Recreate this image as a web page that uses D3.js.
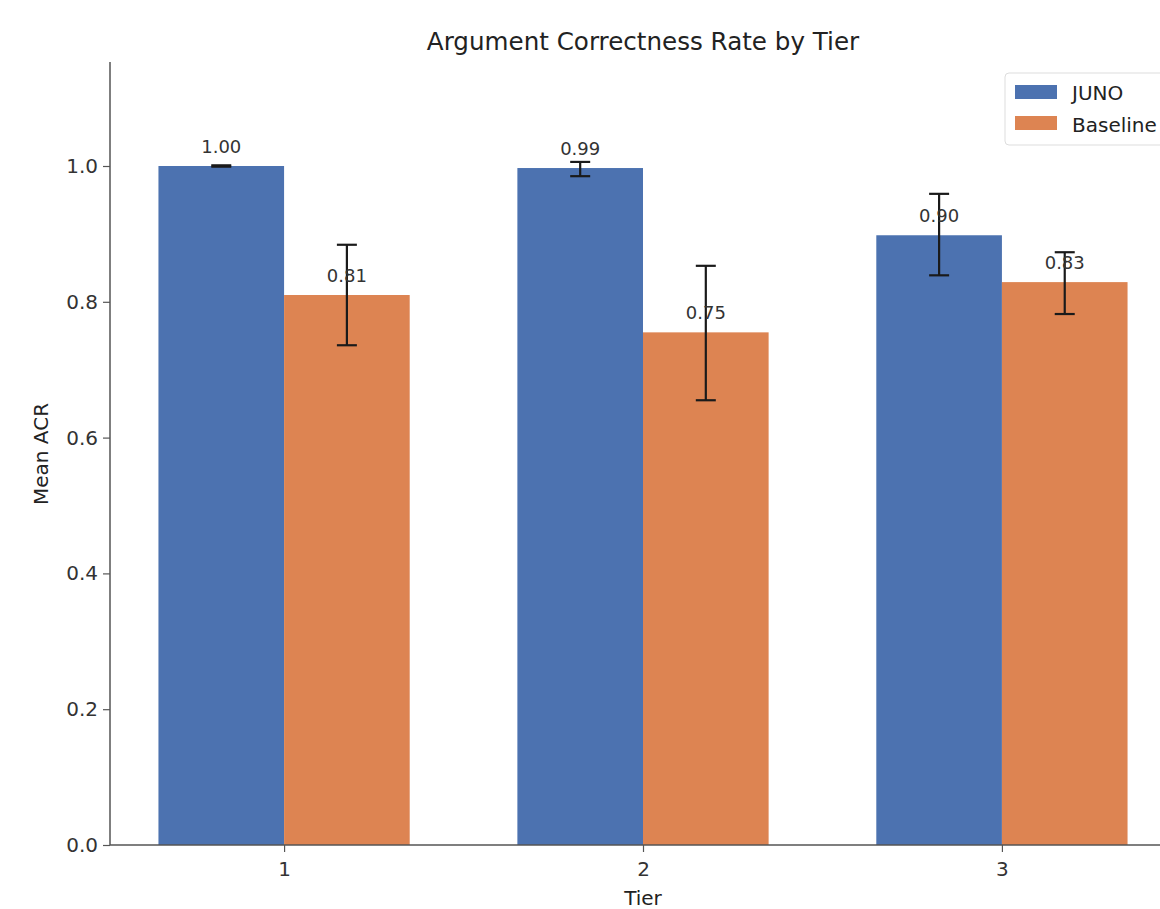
<!DOCTYPE html>
<html>
<head>
<meta charset="utf-8">
<script src="https://cdn.jsdelivr.net/npm/d3@7"></script>
<style>
  body { margin: 0; background: #fff; }
  svg { display: block; }
  text { font-family: "DejaVu Sans", sans-serif; }
</style>
</head>
<body>
<svg id="chart" width="1160" height="909"></svg>
<script>
const tiers = ["1", "2", "3"];
const seriesNames = ["JUNO", "Baseline"];
const junoValues = [1.000, 0.997, 0.898];
const baselineValues = [0.810, 0.755, 0.829];
const junoErrLow = [0.999, 0.985, 0.839];
const junoErrHigh = [1.001, 1.006, 0.959];
const baselineErrLow = [0.736, 0.655, 0.782];
const baselineErrHigh = [0.884, 0.853, 0.873];
const junoLabels = ["1.00", "0.99", "0.90"];
const baselineLabels = ["0.81", "0.75", "0.83"];
const yTicks = [0.0, 0.2, 0.4, 0.6, 0.8, 1.0];
const colors = ["#4c72b0", "#dd8452"];

const svg = d3.select("#chart");
const barW = 0.35;
const x = d3.scaleLinear().domain([-0.485, 2.485]).range([110, 1176]);
const y = d3.scaleLinear().domain([0, 1.15]).range([845, 64.15]);

const series = [
  {name: seriesNames[0], vals: junoValues, lo: junoErrLow, hi: junoErrHigh, labels: junoLabels, off: -barW/2},
  {name: seriesNames[1], vals: baselineValues, lo: baselineErrLow, hi: baselineErrHigh, labels: baselineLabels, off: barW/2}
];

series.forEach((s, si) => {
  const g = svg.append("g");
  g.selectAll("rect").data(s.vals).enter().append("rect")
    .attr("x", (d, i) => x(i + s.off - barW/2))
    .attr("width", x(barW) - x(0))
    .attr("y", d => y(d))
    .attr("height", d => y(0) - y(d))
    .attr("fill", colors[si]);
});

series.forEach((s) => {
  const g = svg.append("g");
  s.vals.forEach((v, i) => {
    const cx = x(i + s.off);
    g.append("line").attr("x1", cx).attr("x2", cx).attr("y1", y(s.lo[i])).attr("y2", y(s.hi[i]))
      .attr("stroke", "#1a1a1a").attr("stroke-width", 2.2);
    [s.lo[i], s.hi[i]].forEach(e => {
      g.append("line").attr("x1", cx - 10).attr("x2", cx + 10).attr("y1", y(e)).attr("y2", y(e))
        .attr("stroke", "#1a1a1a").attr("stroke-width", 2.2);
    });
    g.append("text").attr("x", cx).attr("y", y(v) - 13)
      .attr("text-anchor", "middle")
      .attr("font-size", 18).attr("fill", "#333")
      .text(s.labels[i]);
  });
});

// axes
const yAxis = d3.axisLeft(y).tickValues(yTicks).tickFormat(d3.format(".1f")).tickSize(7).tickPadding(5);
const gy = svg.append("g").attr("transform", `translate(110,0)`).call(yAxis);
gy.select(".domain").remove();
gy.append("line").attr("x1", 0).attr("x2", 0).attr("y1", 62).attr("y2", 845).attr("stroke", "#555").attr("stroke-width", 1.5);
gy.selectAll(".tick line").attr("stroke", "#555").attr("stroke-width", 1.2);
gy.selectAll(".tick text").attr("font-family", "DejaVu Sans").attr("font-size", 20).attr("fill", "#333");

const xAxis = d3.axisBottom(x).tickValues([0, 1, 2]).tickFormat((d, i) => tiers[i]).tickSize(7).tickPadding(10);
const gx = svg.append("g").attr("transform", `translate(0,845)`).call(xAxis);
gx.select(".domain").remove();
gx.append("line").attr("x1", 110).attr("x2", 1176).attr("y1", 0).attr("y2", 0).attr("stroke", "#555").attr("stroke-width", 1.5);
gx.selectAll(".tick line").attr("stroke", "#555").attr("stroke-width", 1.2);
gx.selectAll(".tick text").attr("font-family", "DejaVu Sans").attr("font-size", 20).attr("fill", "#333");

// labels
svg.append("text").attr("x", 643).attr("y", 50).attr("text-anchor", "middle")
  .attr("font-size", 24.6).attr("fill", "#222")
  .text("Argument Correctness Rate by Tier");
svg.append("text").attr("x", 643).attr("y", 905).attr("text-anchor", "middle")
  .attr("font-size", 20).attr("fill", "#222").text("Tier");
svg.append("text").attr("transform", "translate(48,454) rotate(-90)").attr("text-anchor", "middle")
  .attr("font-size", 20).attr("fill", "#222").text("Mean ACR");

// legend
const lg = svg.append("g").attr("transform", "translate(1005,73)");
lg.append("rect").attr("x", 0).attr("y", 0).attr("width", 175).attr("height", 72).attr("rx", 4)
  .attr("fill", "#fff").attr("fill-opacity", 0.8).attr("stroke", "#ddd").attr("stroke-width", 1);
seriesNames.forEach((n, i) => {
  lg.append("rect").attr("x", 10).attr("y", 12 + i * 31).attr("width", 42).attr("height", 14).attr("fill", colors[i]);
  lg.append("text").attr("x", 67).attr("y", 27 + i * 32).attr("font-size", 20)
    .attr("fill", "#222").text(n);
});
</script>
</body>
</html>
